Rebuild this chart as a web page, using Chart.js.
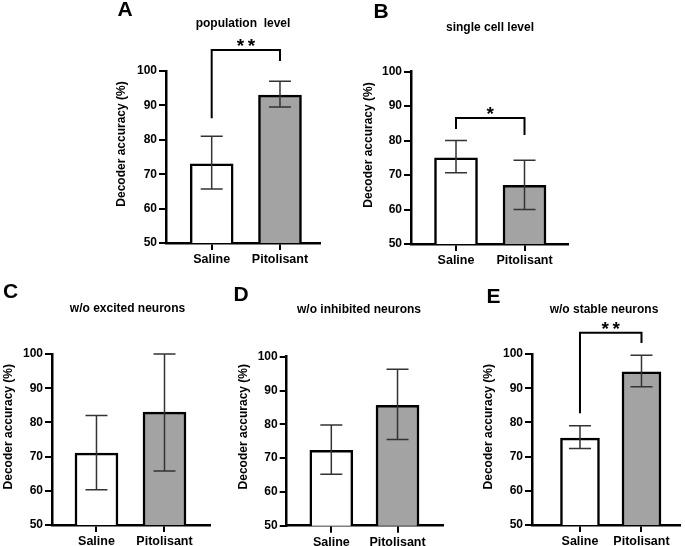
<!DOCTYPE html>
<html>
<head>
<meta charset="utf-8">
<script src="https://cdn.jsdelivr.net/npm/chart.js@4/dist/chart.umd.min.js"></script>
<style>
  body { margin: 0; background: #fff; width: 685px; height: 546px; position: relative; overflow: hidden; }
  canvas { position: absolute; }
</style>
</head>
<body>
<canvas id="cA" width="225" height="270" style="left:100px;top:0px"></canvas>
<canvas id="cB" width="235" height="270" style="left:345px;top:0px"></canvas>
<canvas id="cC" width="220" height="266" style="left:0px;top:280px"></canvas>
<canvas id="cD" width="230" height="266" style="left:225px;top:280px"></canvas>
<canvas id="cE" width="225" height="266" style="left:460px;top:280px"></canvas>
<script>
const groups = ['Saline', 'Pitolisant'];
const yTicks = [50, 60, 70, 80, 90, 100];

// A - population level
const popMean = [73, 93];
const popHigh = [81, 97];
const popLow = [65.7, 89.5];
const popSig = [86.3, 106.1, 102.9]; // left leg end, bracket top, right leg end

// B - single cell level
const cellMean = [75, 67];
const cellHigh = [80, 74.3];
const cellLow = [70.7, 60];
const cellSig = [83.4, 86.6, 81.6];

// C - w/o excited neurons
const excMean = [71, 83];
const excHigh = [82, 100];
const excLow = [60.3, 65.8];

// D - w/o inhibited neurons
const inhMean = [72.3, 85.6];
const inhHigh = [79.8, 96.3];
const inhLow = [65.2, 75.5];

// E - w/o stable neurons
const stbMean = [75.4, 94.8];
const stbHigh = [79, 99.6];
const stbLow = [72.4, 90.4];
const stbSig = [82.7, 106.2, 103.2];

const FONT = '"Liberation Sans", Arial, sans-serif';

// error bars, significance brackets, panel letters and titles
const deco = {
  id: 'deco',
  afterDatasetsDraw(chart, args, o) {
    const { ctx, scales: { x, y } } = chart;
    ctx.save();
    ctx.strokeStyle = '#333';
    ctx.lineWidth = 1.5;
    o.high.forEach((h, i) => {
      const cx = x.getPixelForValue(i);
      const yt = y.getPixelForValue(h);
      const yb = y.getPixelForValue(o.low[i]);
      ctx.beginPath();
      ctx.moveTo(cx, yt); ctx.lineTo(cx, yb);
      ctx.moveTo(cx - 11, yt); ctx.lineTo(cx + 11, yt);
      ctx.moveTo(cx - 11, yb); ctx.lineTo(cx + 11, yb);
      ctx.stroke();
    });
    ctx.restore();
  },
  afterDraw(chart, args, o) {
    const { ctx, scales: { x, y } } = chart;
    ctx.save();
    ctx.fillStyle = '#000';
    ctx.textAlign = 'center';
    ctx.textBaseline = 'middle';
    ctx.font = 'bold 21px ' + FONT;
    ctx.fillText(o.letter, o.letterPos[0], o.letterPos[1]);
    ctx.font = 'bold 12px ' + FONT;
    ctx.fillText(o.title, o.titlePos[0], o.titlePos[1]);
    // y axis title
    ctx.save();
    ctx.translate(o.yTitlePos[0], o.yTitlePos[1]);
    ctx.rotate(-Math.PI / 2);
    ctx.font = 'bold 12px ' + FONT;
    ctx.fillText('Decoder accuracy (%)', 0, 0);
    ctx.restore();
    if (o.sig) {
      const x0 = x.getPixelForValue(0), x1 = x.getPixelForValue(1);
      const top = y.getPixelForValue(o.sig[1]);
      ctx.strokeStyle = '#000';
      ctx.lineWidth = 2;
      ctx.beginPath();
      ctx.moveTo(x0, y.getPixelForValue(o.sig[0]));
      ctx.lineTo(x0, top);
      ctx.lineTo(x1, top);
      ctx.lineTo(x1, y.getPixelForValue(o.sig[2]));
      ctx.stroke();
      ctx.font = 'bold 19px ' + FONT;
      ctx.textBaseline = 'alphabetic';
      const mid = (x0 + x1) / 2;
      const n = o.stars.length;
      for (let k = 0; k < n; k++) {
        ctx.fillText(o.stars[k], mid + (k - (n - 1) / 2) * 11, top + 2);
      }
    }
    ctx.restore();
  }
};

function makePanel(id, p, mean, high, low, sig, stars) {
  const axisFont = { family: FONT, size: 12, weight: 'bold' };
  new Chart(document.getElementById(id), {
    type: 'bar',
    data: {
      datasets: [{
        data: mean.map((v, i) => ({ x: i, y: v })),
        backgroundColor: ['#ffffff', '#a3a3a3'],
        borderColor: '#000',
        borderWidth: 2.5,
        borderSkipped: false,
        barThickness: p.barW
      }]
    },
    options: {
      responsive: false,
      animation: false,
      layout: { padding: { left: 0, right: p.w - p.area.r, top: p.area.t, bottom: 0 } },
      plugins: {
        legend: { display: false },
        tooltip: { enabled: false },
        deco: {
          high: high, low: low, sig: sig, stars: stars,
          letter: p.letter, letterPos: p.letterPos,
          title: p.title, titlePos: p.titlePos, yTitlePos: p.yTitlePos
        }
      },
      scales: {
        x: {
          type: 'linear',
          offset: false,
          min: p.xMin,
          max: p.xMax,
          afterBuildTicks: s => { s.ticks = groups.map((g, i) => ({ value: i })); },
          afterFit: s => { s.height = p.h - p.area.b; },
          ticks: { callback: v => groups[v], font: { family: FONT, size: 12.5, weight: 'bold' }, color: '#000', padding: 2, maxRotation: 0, autoSkip: false },
          grid: { offset: false, drawOnChartArea: false, color: '#000', lineWidth: 2, tickLength: 7 },
          border: { color: '#000', width: 2.5 }
        },
        y: {
          min: 50,
          max: 100,
          afterBuildTicks: s => { s.ticks = yTicks.map(v => ({ value: v })); },
          afterFit: s => { s.width = p.area.l; },
          ticks: { font: axisFont, color: '#000', padding: 2 },
          grid: { drawOnChartArea: false, color: '#000', lineWidth: 2, tickLength: 7 },
          border: { color: '#000', width: 2.5 }
        }
      }
    },
    plugins: [deco]
  });
}

makePanel('cA', { w: 225, h: 270, area: { l: 66, r: 220, t: 71, b: 243 }, xMin: -0.669, xMax: 1.586, barW: 43,
  letter: 'A', letterPos: [25, 10], title: 'population  level', titlePos: [143, 24], yTitlePos: [21.7, 144] },
  popMean, popHigh, popLow, popSig, '**');
makePanel('cB', { w: 235, h: 270, area: { l: 66, r: 223, t: 71.7, b: 244 }, xMin: -0.657, xMax: 1.635, barW: 43,
  letter: 'B', letterPos: [36, 12], title: 'single cell level', titlePos: [145, 27.5], yTitlePos: [23.3, 145] },
  cellMean, cellHigh, cellLow, cellSig, '*');
makePanel('cC', { w: 220, h: 266, area: { l: 52, r: 210, t: 74, b: 245 }, xMin: -0.654, xMax: 1.669, barW: 43,
  letter: 'C', letterPos: [10.5, 12], title: 'w/o excited neurons', titlePos: [127.5, 29], yTitlePos: [8.3, 146.7] },
  excMean, excHigh, excLow, null, '');
makePanel('cD', { w: 230, h: 266, area: { l: 61.7, r: 218, t: 76.7, b: 245.7 }, xMin: -0.674, xMax: 1.687, barW: 43,
  letter: 'D', letterPos: [16, 15], title: 'w/o inhibited neurons', titlePos: [134, 30], yTitlePos: [18.3, 146.7] },
  inhMean, inhHigh, inhLow, null, '');
makePanel('cE', { w: 225, h: 266, area: { l: 72, r: 220, t: 74, b: 245 }, xMin: -0.78, xMax: 1.626, barW: 39,
  letter: 'E', letterPos: [33.5, 17], title: 'w/o stable neurons', titlePos: [144, 29.3], yTitlePos: [28.3, 146.7] },
  stbMean, stbHigh, stbLow, stbSig, '**');
</script>
</body>
</html>
